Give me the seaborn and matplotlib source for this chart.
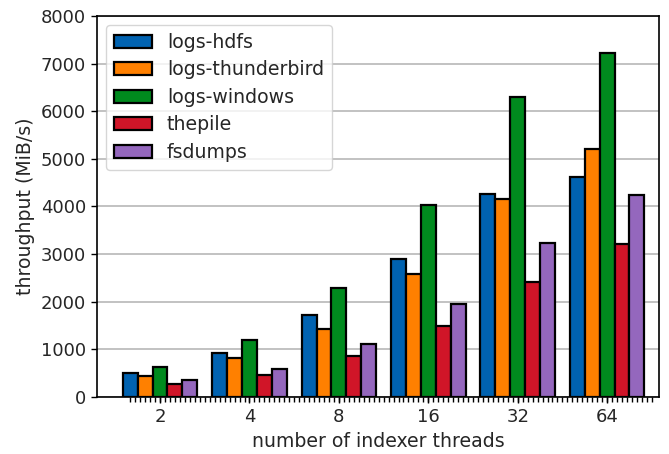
import numpy as np
import pandas as pd
import matplotlib
matplotlib.use("Agg")
import matplotlib.pyplot as plt
from matplotlib.ticker import FixedLocator
import seaborn as sns

threads = ["2", "4", "8", "16", "32", "64"]
datasets = ["logs-hdfs", "logs-thunderbird", "logs-windows", "thepile", "fsdumps"]
logs_hdfs = [510, 930, 1720, 2890, 4260, 4610]
logs_thunderbird = [450, 820, 1420, 2590, 4160, 5210]
logs_windows = [630, 1200, 2280, 4030, 6300, 7220]
thepile = [265, 470, 860, 1480, 2420, 3220]
fsdumps = [355, 580, 1110, 1960, 3230, 4250]

colors = ["#0062B0", "#FF8000", "#008A1E", "#D01528", "#9467BD"]

series = [logs_hdfs, logs_thunderbird, logs_windows, thepile, fsdumps]
df = pd.DataFrame({
    "threads": [t for _ in datasets for t in threads],
    "dataset": [d for d in datasets for _ in threads],
    "throughput": [v for s in series for v in s],
})

sns.set_style("ticks")
plt.rcParams["font.family"] = ["DejaVu Sans"]

fig = plt.figure(figsize=(6.69, 4.54), dpi=100)
ax = fig.add_axes([0.145, 0.1256, 0.84, 0.8392])

sns.barplot(data=df, x="threads", y="throughput", hue="dataset",
            order=threads, hue_order=datasets, palette=colors,
            saturation=1, width=5 / 6, edgecolor="black", linewidth=1.6,
            errorbar=None, ax=ax, zorder=3)

ax.set_xlim(-0.705, 5.58)
ax.set_ylim(0, 8000)
ax.set_yticks(np.arange(0, 8001, 1000))
ax.yaxis.grid(True, color="#bdbdbd", linewidth=1.3, zorder=0)
ax.set_axisbelow(True)

ax.xaxis.set_minor_locator(FixedLocator(np.arange(-0.333, 5.52, 1 / 18)))
ax.tick_params(axis="x", which="minor", length=3.5, width=1, color="black")
ax.tick_params(axis="both", which="major", labelsize=13, length=4.5, width=1,
               color="black")

for s in ax.spines.values():
    s.set_visible(True)
    s.set_color("black")
    s.set_linewidth(1.2)

ax.set_xlabel("number of indexer threads", fontsize=13.6)
ax.set_ylabel("throughput (MiB/s)", fontsize=13.6)

ax.legend(loc="upper left", fontsize=13.6, frameon=True, fancybox=True,
          framealpha=0.8, edgecolor="#cccccc", borderaxespad=0.5,
          labelspacing=0.45)

fig.savefig("out.png", dpi=100)
